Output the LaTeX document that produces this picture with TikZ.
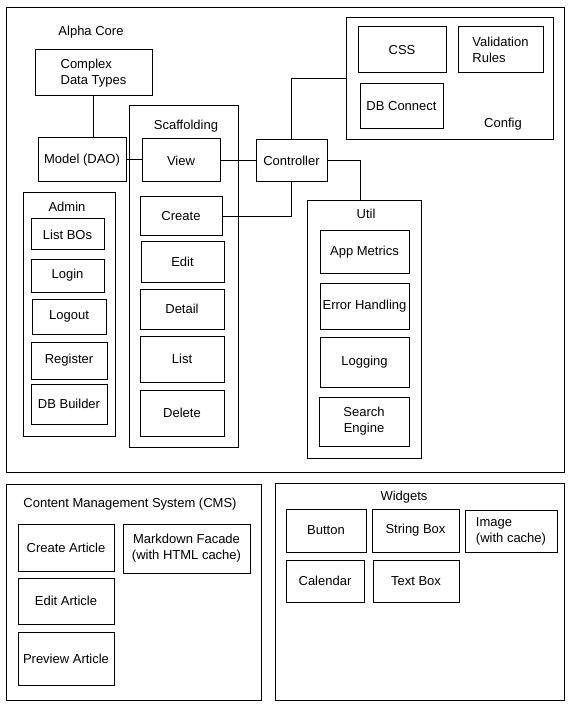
\documentclass[tikz,border=0pt]{standalone}
\usepackage{fontspec}
\setmainfont{Liberation Sans}
\tikzset{
  bx/.style={draw, line width=1pt, inner sep=1pt, font=\fontsize{13}{16}\selectfont},
  lbl/.style={inner sep=0pt, font=\fontsize{13}{16}\selectfont},
  wire/.style={line width=1pt}
}
\newcommand\dbox[7][]{%
  \node[bx,#1,minimum width={#5pt-#3pt}, minimum height={#6pt-#4pt}] (#2) at ({(#3+#5)/2},{(#4+#6)/2}) {#7};}
\begin{document}
\begin{tikzpicture}[x=1pt,y=-1pt]
\useasboundingbox (0,0) rectangle (572,708);
% containers
\dbox{alpha}{6}{8}{564}{472}{}
\node[lbl] (alphal) at (91,32) {Alpha Core};
\dbox{scaf}{129}{106}{238}{447}{}
\node[lbl] (scafl) at (186,126) {Scaffolding};
\dbox{config}{346}{18}{553}{140}{}
\node[lbl] (configl) at (503,124) {Config};
\dbox{util}{307}{201}{421}{458}{}
\node[lbl] (utill) at (366,214) {Util};
\dbox{admin}{23}{193}{115}{436}{}
\node[lbl] (adminl) at (67,207) {Admin};
\dbox{cms}{6}{484}{261}{700}{}
\node[lbl] (cmsl) at (130,504) {Content Management System (CMS)};
\dbox{wid}{275}{483}{564}{700}{}
\node[lbl] (widl) at (404,497) {Widgets};
% core
\dbox[align=left]{cdt}{35}{50}{152}{96}{Complex\\Data Types}
\dbox{model}{38}{138}{126}{182}{Model (DAO)}
\dbox{view}{142}{139}{220}{182}{View}
\dbox{ctrl}{256}{140}{327}{182}{Controller}
\dbox{create}{140}{197}{222}{236}{Create}
\dbox{edit}{141}{242}{224}{282}{Edit}
\dbox{detail}{140}{289}{224}{329}{Detail}
\dbox{list}{140}{336}{224}{382}{List}
\dbox{delete}{140}{390}{224}{436}{Delete}
% config
\dbox{css}{358}{27}{446}{73}{CSS}
\dbox[align=left]{valid}{458}{27}{543}{73}{Validation\\Rules}
\dbox{dbc}{360}{84}{443}{129}{DB Connect}
% util
\dbox{appm}{320}{231}{409}{273}{App Metrics}
\dbox{err}{320}{283}{409}{329}{Error Handling}
\dbox{logg}{320}{337}{409}{387}{Logging}
\dbox[align=center]{search}{319}{397}{409}{446}{Search\\Engine}
% admin
\dbox{listbo}{31}{219}{104}{250}{List BOs}
\dbox{login}{31}{259}{104}{292}{Login}
\dbox{logout}{32}{299}{106}{334}{Logout}
\dbox{register}{31}{342}{107}{379}{Register}
\dbox{dbb}{31}{384}{107}{424}{DB Builder}
% cms
\dbox{ca}{18}{524}{114}{571}{Create Article}
\dbox[align=center]{mf}{123}{524}{250}{573}{Markdown Facade\\(with HTML cache)}
\dbox{ea}{18}{578}{114}{624}{Edit Article}
\dbox{pa}{18}{632}{114}{685}{Preview Article}
% widgets
\dbox{btn}{286}{509}{366}{552}{Button}
\dbox{sb}{372}{509}{459}{552}{String Box}
\dbox[align=left]{img}{465}{510}{557}{552}{Image\\(with cache)}
\dbox{cal}{286}{560}{364}{602}{Calendar}
\dbox{tb}{373}{560}{459}{602}{Text Box}
% connectors
\coordinate (utilin) at (360,201);
\draw[wire] (cdt.south) -- (cdt.south |- model.north);
\draw[wire] (model.east) -- (model.east -| view.west);
\draw[wire] (view.east) -- (view.east -| ctrl.west);
\draw[wire] (create.east) -| (ctrl.south);
\draw[wire] (ctrl.north) |- (config.west);
\draw[wire] (ctrl.east) -| (utilin);
\end{tikzpicture}
\end{document}
